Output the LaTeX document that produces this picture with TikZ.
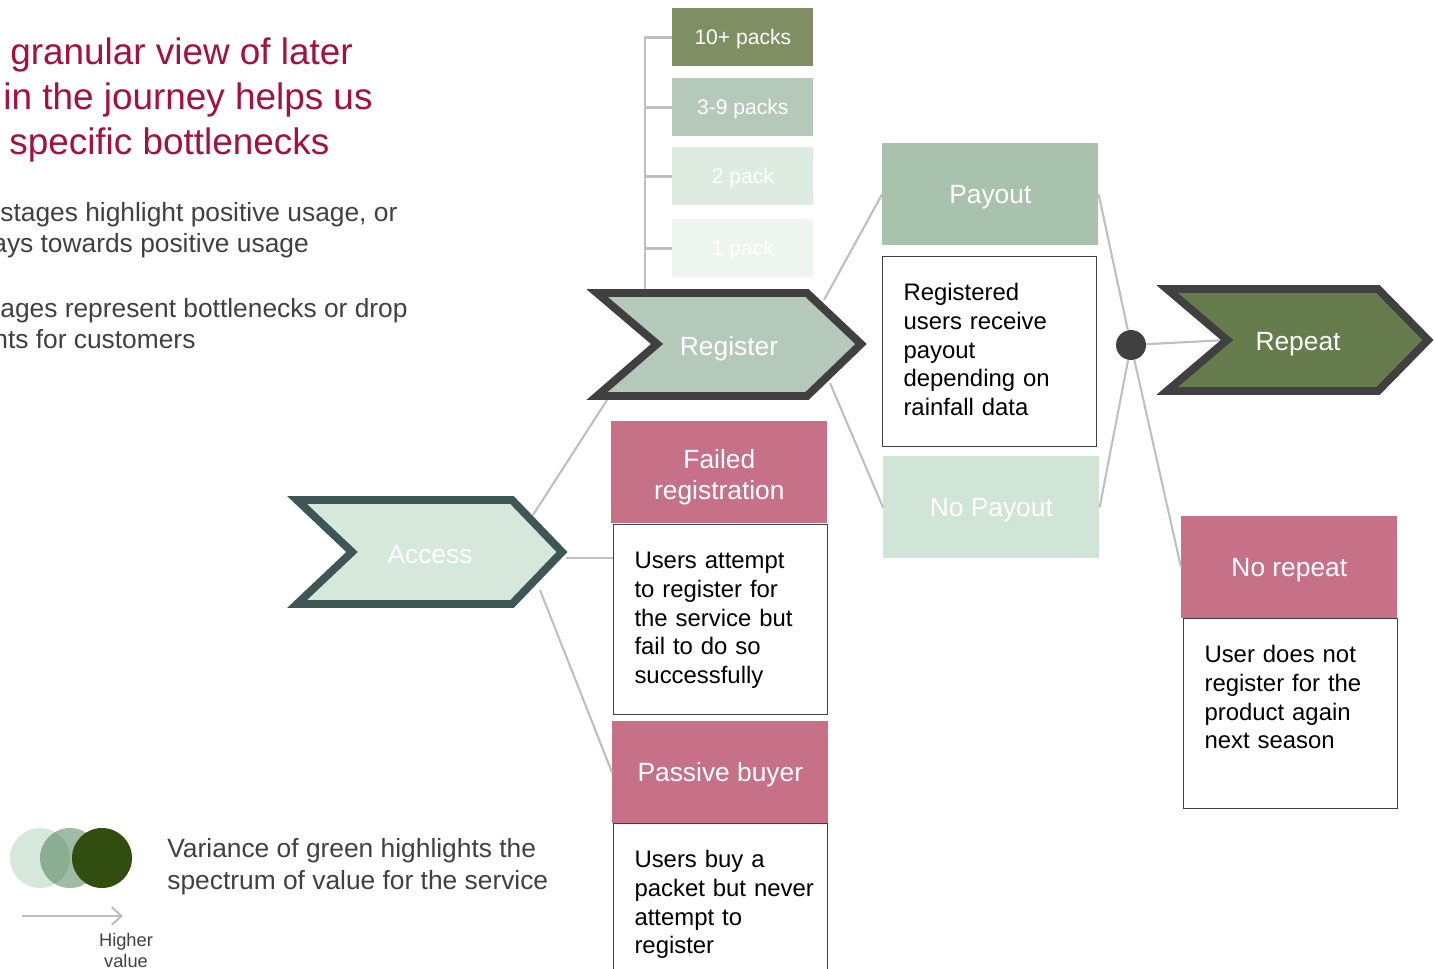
\documentclass[tikz,border=0pt]{standalone}
\usepackage{fontspec}
\setmainfont{Liberation Sans}
\usepackage{tkz-euclide}
\usetikzlibrary{arrows.meta}
\definecolor{titlered}{RGB}{166,16,62}
\definecolor{txtgrey}{RGB}{64,64,64}
\definecolor{linegrey}{RGB}{191,191,191}
\definecolor{pinkbox}{RGB}{198,113,135}
\definecolor{packA}{RGB}{127,143,99}
\definecolor{packB}{RGB}{181,201,186}
\definecolor{packC}{RGB}{221,235,224}
\definecolor{packD}{RGB}{237,245,238}
\definecolor{payfill}{RGB}{169,194,173}
\definecolor{nopayfill}{RGB}{208,229,214}
\definecolor{accfill}{RGB}{213,232,219}
\definecolor{accedge}{RGB}{62,87,86}
\definecolor{repfill}{RGB}{102,124,76}
\definecolor{darkedge}{RGB}{64,64,64}
\definecolor{midgreen}{RGB}{72,122,82}
\definecolor{darkgreen}{RGB}{50,77,16}

\begin{document}
\begin{tikzpicture}[x=0.02cm, y=-0.02cm,
  titletxt/.style={anchor=base west, inner sep=0pt, text=titlered, font=\fontsize{21}{25}\selectfont},
  bodytxt/.style={anchor=base west, inner sep=0pt, text=txtgrey, font=\fontsize{15}{18}\selectfont, align=left},
  lbl/.style={inner sep=0pt, text=white, align=center, text height=0.38cm, text depth=0cm, font=\fontsize{15}{18}\selectfont},
  stagebox/.style={lbl, anchor=north west, minimum width=4.32cm, minimum height=2.04cm},
  packbox/.style={anchor=north west, inner sep=0pt, text=white, minimum width=2.82cm, minimum height=1.16cm, text height=0.3cm, text depth=0cm, font=\fontsize{12}{14}\selectfont},
  descbox/.style={anchor=north west, draw=darkedge, line width=0.6pt, align=left, text width=3.44cm, inner xsep=0.42cm, inner ysep=0.54cm, text height=0.34cm, text depth=2.38cm, font=\fontsize{13.6}{16.4}\selectfont},
  link/.style={draw=linegrey, line width=1.2pt},
  chev/.style={line width=4.5pt, line join=miter}]
\clip (0,0) rectangle (1435,969);

\node[titletxt] (ttl1) at (10,65) {granular view of later};
\node[titletxt] (ttl2) at (3,110) {in the journey helps us};
\node[titletxt] (ttl3) at (9,155) {specific bottlenecks};
\node[bodytxt] (pos1) at (0,222) {stages highlight positive usage, or};
\node[bodytxt] (pos2) at (-8,253) {ays towards positive usage};
\node[bodytxt] (neg1) at (0,317) {ages represent bottlenecks or drop};
\node[bodytxt] (neg2) at (-7,348) {nts for customers};

\tkzDefPoints{297/500/A1, 512/500/A2, 562/552/A3, 512/604/A4, 297/604/A5, 352/552/A6}
\tkzDefPoints{597/293/R1, 807/293/R2, 861/344/R3, 807/396/R4, 597/396/R5, 657/344/R6}
\tkzDefPoints{1167/289/Q1, 1378/289/Q2, 1428/340/Q3, 1378/391/Q4, 1167/391/Q5, 1227/340/Q6}

\node[packbox, fill=packA] (pack10) at (672,8) {10+ packs};
\node[packbox, fill=packB] (pack3) at (672,78) {3-9 packs};
\node[packbox, fill=packC] (pack2) at (672,147) {2 pack};
\node[packbox, fill=packD] (pack1) at (672,219) {1 pack};

\node[stagebox, fill=payfill] (payout) at (882,143) {Payout};
\node[descbox] (paydesc) at (882,256) {Registered\\users receive\\payout\\depending on\\rainfall data};
\node[stagebox, fill=nopayfill] (nopay) at (883,456) {No Payout};

\node[stagebox, fill=pinkbox, text height=1.1cm] (failed) at (611,421) {Failed\\registration};
\node[descbox] (faildesc) at (613,524) {Users attempt\\to register for\\the service but\\fail to do so\\successfully};
\node[stagebox, fill=pinkbox] (passive) at (612,721) {Passive buyer};
\node[descbox] (passdesc) at (613,823) {Users buy a\\\mbox{packet but never}\\attempt to\\register};

\node[stagebox, fill=pinkbox] (norep) at (1181,516) {No repeat};
\node[descbox] (norepdesc) at (1183,618) {User does not\\register for the\\product again\\next season};

\node[circle, fill=darkedge, inner sep=0pt, minimum size=0.6cm] (hub) at (1131,345) {};

\coordinate (brk) at (645,291);
\coordinate (accU) at (533,515);
\coordinate (accR) at (566,558);
\coordinate (accD) at (540,590);
\coordinate (regBL) at (607,400);
\coordinate (regU) at (824,300);
\coordinate (regD) at (830,383);

\draw[link, line width=1.6pt] (brk) |- (pack10.west);
\draw[link, line width=1.6pt] (brk) |- (pack3.west);
\draw[link, line width=1.6pt] (brk) |- (pack2.west);
\draw[link, line width=1.6pt] (brk) |- (pack1.west);
\draw[link] (accU) -- (regBL);
\draw[link] (accR) -- (accR -| faildesc.west);
\draw[link] (accD) -- (passive.west);
\draw[link] (regU) -- (payout.west);
\draw[link] (regD) -- (nopay.west);
\draw[link] (payout.east) -- (hub);
\draw[link] (nopay.east) -- (hub);
\draw[link] (hub) -- (Q6);
\draw[link] (hub) -- (norep.west);

\tkzDrawPolygon[chev, draw=accedge, fill=accfill](A1,A2,A3,A4,A5,A6)
\tkzDrawPolygon[chev, draw=darkedge, fill=packB](R1,R2,R3,R4,R5,R6)
\tkzDrawPolygon[chev, draw=darkedge, fill=repfill](Q1,Q2,Q3,Q4,Q5,Q6)
\node[lbl] (access) at (430,554) {Access};
\node[lbl] (register) at (729,346) {Register};
\node[lbl] (repeat) at (1298,341) {Repeat};

\node[circle, fill=accfill, inner sep=0pt, minimum size=1.2cm] (lowval) at (40,858) {};
\node[circle, fill=midgreen, fill opacity=0.52, inner sep=0pt, minimum size=1.2cm] (midval) at (70,858) {};
\node[circle, fill=darkgreen, inner sep=0pt, minimum size=1.2cm] (highval) at (102,858) {};
\node[bodytxt] (legend) at (167,889) {Variance of green highlights the\\spectrum of value for the service};
\coordinate (arrS) at (22,916);
\coordinate (arrE) at (123,916);
\draw[link, -{Straight Barb[length=5.5pt, width=10pt]}] (arrS) -- (arrE);
\node[align=center, text=txtgrey, inner sep=0pt, font=\fontsize{10.4}{12}\selectfont] (higher) at (126,950) {Higher\\value};
\end{tikzpicture}
\end{document}
